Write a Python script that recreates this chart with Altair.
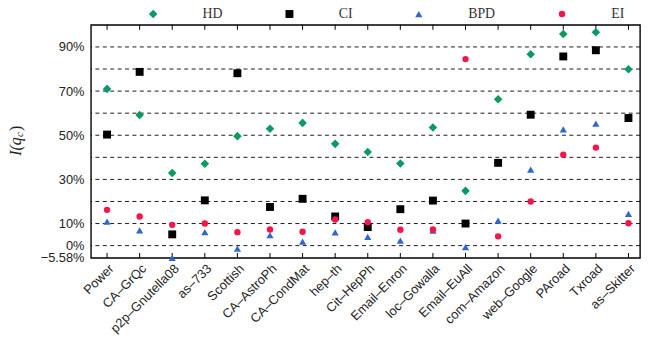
import altair as alt
import pandas as pd

datasets = ["Power", "CA–GrQc", "p2p–Gnutella08", "as–733", "Scottish", "CA–AstroPh",
            "CA–CondMat", "hep–th", "Cit–HepPh", "Email–Enron", "loc–Gowalla",
            "Email–EuAll", "com–Amazon", "web–Google", "PAroad", "Txroad", "as–Skitter"]
HD = [71.0, 59.2, 32.9, 37.1, 49.6, 52.9, 55.6, 46.1, 42.4, 37.2, 53.5, 24.8, 66.3, 86.7, 95.9, 96.7, 79.9]
CI = [50.3, 78.7, 5.1, 20.5, 78.1, 17.5, 21.2, 13.2, 8.4, 16.5, 20.4, 10.0, 37.5, 59.3, 85.7, 88.5, 57.8]
BPD = [10.9, 6.9, -5.58, 6.1, -1.4, 4.7, 1.8, 6.0, 4.0, 2.3, 6.8, -0.7, 11.3, 34.4, 52.7, 55.3, 14.4]
EI = [16.2, 13.2, 9.4, 10.0, 6.1, 7.3, 6.3, 11.8, 10.6, 7.2, 7.3, 84.5, 4.2, 20.0, 41.2, 44.4, 10.1]
methods = ["HD", "CI", "BPD", "EI"]
colors = ["#0b9a60", "#000000", "#2f66d0", "#f5154b"]
shapes = ["diamond", "square", "triangle-up", "circle"]
sizes = [75, 42, 75, 85]
y_label_values = [-5.58, 0, 10, 30, 50, 70, 90]
grid_values = [0, 10, 20, 30, 40, 50, 60, 70, 80, 90]

rows = []
for m, vals in zip(methods, [HD, CI, BPD, EI]):
    for d, v in zip(datasets, vals):
        rows.append({"dataset": d, "method": m, "value": v})
df = pd.DataFrame(rows)
cat_df = pd.DataFrame({"dataset": datasets})
grid_df = pd.DataFrame({"v": grid_values})

W, H = 556, 236
xscale = alt.Scale(type="point", range=[16.3, 544.3], padding=0)
xaxis = alt.Axis(title=None, labelAngle=-45, ticks=False, domain=False,
                 labelFont="Liberation Sans", labelFontSize=13, labelColor="#222",
                 labelPadding=4, labelAlign="right", labelBaseline="top",
                 labelOverlap=False)
xenc = alt.X("dataset:N", sort=datasets, scale=xscale, axis=xaxis)
yscale = alt.Scale(domain=[-5.58, 100], nice=False, zero=False)
yaxis = alt.Axis(title=None, values=y_label_values, ticks=False, domain=False, grid=False,
                 labelExpr="datum.value == -5.58 ? '−5.58%' : datum.value + '%'",
                 labelFont="Liberation Sans", labelFontSize=13, labelColor="#222",
                 labelPadding=7, labelOverlap=False, labelFlush=False)

grid = alt.Chart(grid_df).mark_rule(color="#000", strokeWidth=0.9, strokeDash=[4, 3.5]).encode(
    y=alt.Y("v:Q", scale=yscale, axis=yaxis)
)

top_ticks = alt.Chart(cat_df).mark_rule(color="#000", strokeWidth=1).encode(
    x=xenc, y=alt.value(0), y2=alt.value(5))
bot_ticks = alt.Chart(cat_df).mark_rule(color="#000", strokeWidth=1).encode(
    x=xenc, y=alt.value(H), y2=alt.value(H - 5))

points = alt.Chart(df).mark_point(filled=True, opacity=1).encode(
    x=xenc,
    y=alt.Y("value:Q", scale=yscale, axis=yaxis),
    color=alt.Color("method:N", scale=alt.Scale(domain=methods, range=colors),
                    legend=alt.Legend(title=None, orient="none", direction="horizontal",
                                      legendX=56, legendY=-18, labelFont="Liberation Serif",
                                      labelFontSize=14, labelColor="#333", symbolSize=80,
                                      labelOffset=43, columnPadding=60, symbolStrokeWidth=0)),
    shape=alt.Shape("method:N", scale=alt.Scale(domain=methods, range=shapes)),
    size=alt.Size("method:N", scale=alt.Scale(domain=methods, range=sizes), legend=None),
    order=alt.Order("order:Q"),
).transform_calculate(order="indexof(['HD','CI','BPD','EI'], datum.method)")

title_df = pd.DataFrame({"t": [""]})
t1 = alt.Chart(title_df).mark_text(angle=270, align="left", baseline="middle", font="Liberation Serif",
                                   fontStyle="italic", fontSize=16, color="#222").encode(
    x=alt.value(-76), y=alt.value(132.5), text=alt.value("I(q"))
t2 = alt.Chart(title_df).mark_text(angle=270, align="left", baseline="middle", font="Liberation Serif",
                                   fontStyle="italic", fontSize=11, color="#222").encode(
    x=alt.value(-72), y=alt.value(113.5), text=alt.value("c"))
t3 = alt.Chart(title_df).mark_text(angle=270, align="left", baseline="middle", font="Liberation Serif",
                                   fontSize=16, color="#222").encode(
    x=alt.value(-76), y=alt.value(107.5), text=alt.value(")"))

chart = alt.layer(grid, top_ticks, bot_ticks, points, t1, t2, t3).properties(
    width=W, height=H,
    autosize=alt.AutoSizeParams(type="none"),
    padding={"left": 84, "top": 15, "right": 1, "bottom": 80},
).configure(background="white").configure_view(stroke="#000", strokeWidth=1.4)

chart.save("out.html", embed_options={"renderer": "svg", "actions": False})
